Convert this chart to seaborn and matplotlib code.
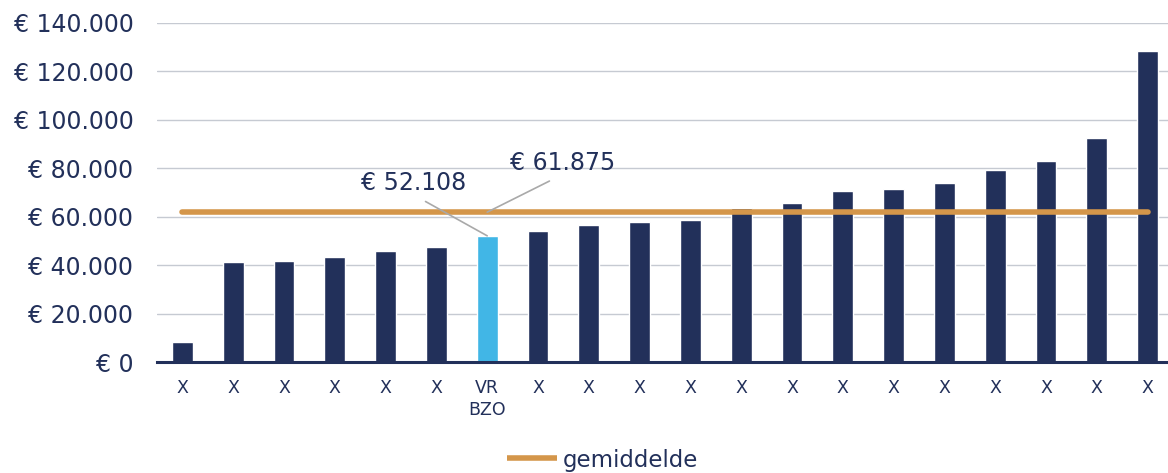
import seaborn as sns
import matplotlib.pyplot as plt
import pandas as pd

# values (euro), sorted ascending
labels = ['X', 'X', 'X', 'X', 'X', 'X', 'VR\nBZO', 'X', 'X', 'X',
          'X', 'X', 'X', 'X', 'X', 'X', 'X', 'X', 'X', 'X']
values = [8300, 41400, 41800, 43500, 46000, 47600, 52108, 53950, 56400, 57700,
          58800, 63400, 65850, 70550, 71550, 73900, 79300, 82900, 92600, 128500]
highlight = 'VR\nBZO'
average = 61875

NAVY = '#22305A'
BLUE = '#41B6E6'
GOLD = '#D4964A'
GRID = '#C6CAD2'


def euro(v):
    return '€ ' + f'{v:,.0f}'.replace(',', '.')


def cost_bar_chart(labels, values):
    """bar chart with the average as a horizontal line and two callouts"""
    df = pd.DataFrame({'pos': range(len(values)), 'label': labels, 'value': values})
    colors = [BLUE if l == highlight else NAVY for l in labels]

    sns.set_style('white')
    plt.rcParams['font.family'] = ['DejaVu Sans']

    fig = plt.figure(figsize=(11.68, 4.73), dpi=100)
    ax = fig.add_axes([157 / 1168, 1 - 362 / 473, (1173 - 157) / 1168, (362 - 23) / 473])

    sns.barplot(data=df, x='pos', y='value', hue='pos', palette=colors,
                legend=False, width=0.41, saturation=1, ax=ax)

    ax.hlines(average, 0, len(values) - 1, color=GOLD, linewidth=4,
              capstyle='round', zorder=3, label='gemiddelde')

    ax.set_ylim(0, 140000)
    ax.set_xlim(-0.5, len(values) - 0.5)
    ax.set_yticks(range(0, 140001, 20000))
    ax.set_yticklabels([euro(v) for v in range(0, 140001, 20000)])
    ax.set_xticks(df['pos'])
    ax.set_xticklabels(labels, linespacing=1.3)
    ax.set_xlabel('')
    ax.set_ylabel('')

    ax.tick_params(axis='y', length=0, pad=17, labelsize=17, labelcolor=NAVY)
    ax.tick_params(axis='x', length=0, pad=12, labelsize=12.5, labelcolor=NAVY)

    ax.grid(axis='y', color=GRID, linewidth=1)
    ax.set_axisbelow(True)
    for s in ['top', 'right', 'left']:
        ax.spines[s].set_visible(False)
    ax.spines['bottom'].set_color(NAVY)
    ax.spines['bottom'].set_linewidth(2.2)

    hi = labels.index(highlight)
    arrow = dict(arrowstyle='-', color='#A9A9A9', lw=1.2, shrinkA=5, shrinkB=0,
                 relpos=(0.5, 0))
    ax.annotate(euro(values[hi]), xy=(hi, values[hi]), xytext=(-53, 29.5),
                textcoords='offset points', ha='center', va='bottom',
                fontsize=17, color=NAVY, arrowprops=arrow)
    ax.annotate(euro(average), xy=(hi, average), xytext=(54, 27),
                textcoords='offset points', ha='center', va='bottom',
                fontsize=17, color=NAVY, arrowprops=arrow)

    fig.legend(loc='center', bbox_to_anchor=(0.516, 13 / 473), frameon=False,
               fontsize=16.5, labelcolor=NAVY, handlelength=2.2,
               handletextpad=0.25)

    plt.savefig('out.png', dpi=100)
    plt.close()


cost_bar_chart(labels, values)
